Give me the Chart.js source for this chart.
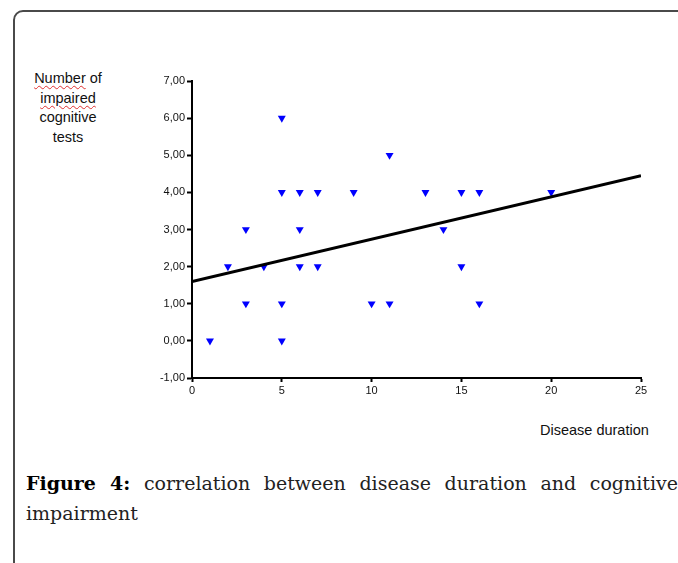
<!DOCTYPE html>
<html>
<head>
<meta charset="utf-8">
<script src="https://cdn.jsdelivr.net/npm/chart.js@4/dist/chart.umd.min.js"></script>
<style>
    html, body { margin: 0; padding: 0; background: #fff; width: 678px; height: 563px; overflow: hidden; }
    #frame {
        position: absolute; left: 13px; top: 10px; width: 700px; height: 600px;
        border: 2px solid #4a4a4a; border-top-left-radius: 10px;
    }
    #chartBox { position: absolute; left: 130px; top: 70px; width: 530px; height: 330px; }
    #yTitle {
        position: absolute; left: 18px; top: 69px; width: 100px; text-align: center;
        font-family: "Liberation Sans", Arial, sans-serif; font-size: 14.5px; line-height: 19.5px; color: #111;
    }
    .spell { text-decoration: underline wavy #e03030; text-decoration-thickness: 1px; text-underline-offset: 2px; }
    #xTitle {
        position: absolute; left: 540px; top: 422px;
        font-family: "Liberation Sans", Arial, sans-serif; font-size: 14.5px; color: #111;
    }
    #caption {
        position: absolute; left: 26px; top: 468px; width: 652px; text-align: justify;
        font-family: "DejaVu Serif", serif; font-size: 19px; line-height: 30px; color: #222;
    }
    #caption b { font-weight: bold; color: #000; }
</style>
</head>
<body>
<div id="frame"></div>
<div id="yTitle"><span class="spell">Number</span> of<br><span class="spell">impaired</span><br>cognitive<br>tests</div>
<div id="chartBox"><canvas id="chart" width="530" height="330"></canvas></div>
<div id="xTitle">Disease duration</div>
<div id="caption"><b>Figure 4:</b> correlation between disease duration and cognitive impairment</div>
<script>
// observed points (disease duration in years, impaired cognitive tests)
const durations     = [1, 2, 3, 3, 4, 5, 5, 5, 5, 6, 6, 6, 7, 7, 9, 10, 11, 11, 13, 14, 15, 15, 16, 16, 20];
const impairedTests = [0, 2, 3, 1, 2, 6, 4, 1, 0, 4, 3, 2, 4, 2, 4, 1, 5, 1, 4, 3, 4, 2, 4, 1, 4];

// fitted regression line end points
const fitX = [0, 25];
const fitY = [1.6, 4.45];

const xMin = 0, xMax = 25, xStep = 5;
const yMin = -1, yMax = 7, yStep = 1;

const scatterPoints = durations.map((d, i) => ({ x: d, y: impairedTests[i] }));
const fitPoints = fitX.map((d, i) => ({ x: d, y: fitY[i] }));

const axisFont = { family: 'Liberation Sans, Arial, sans-serif', size: 11 };

new Chart(document.getElementById('chart').getContext('2d'), {
    type: 'scatter',
    data: {
        datasets: [
            {
                label: 'Patients',
                data: scatterPoints,
                pointStyle: 'triangle',
                rotation: 180,
                pointRadius: 4.6,
                pointBackgroundColor: '#0000ff',
                pointBorderWidth: 0,
                order: 1
            },
            {
                label: 'Fit',
                data: fitPoints,
                type: 'line',
                showLine: true,
                borderColor: '#000',
                borderWidth: 3,
                pointRadius: 0,
                fill: false,
                order: 0
            }
        ]
    },
    options: {
        responsive: false,
        animation: false,
        layout: { padding: { top: 11, right: 19, left: 0, bottom: 0 } },
        plugins: { legend: { display: false }, tooltip: { enabled: false } },
        scales: {
            x: {
                type: 'linear',
                min: xMin, max: xMax,
                afterFit: scale => { scale.height = 22; },
                ticks: { stepSize: xStep, color: '#111', font: axisFont, padding: 2, maxRotation: 0 },
                grid: { drawOnChartArea: false, drawTicks: true, tickLength: 4, tickWidth: 2, tickColor: '#000' },
                border: { display: true, color: '#000', width: 2 }
            },
            y: {
                type: 'linear',
                min: yMin, max: yMax,
                afterFit: scale => { scale.width = 62; },
                ticks: {
                    stepSize: yStep, color: '#111', font: axisFont, padding: 2,
                    callback: v => v.toFixed(2).replace('.', ',')
                },
                grid: { drawOnChartArea: false, drawTicks: true, tickLength: 5, tickWidth: 2, tickColor: '#000' },
                border: { display: true, color: '#000', width: 2 }
            }
        }
    }
});
</script>
</body>
</html>
